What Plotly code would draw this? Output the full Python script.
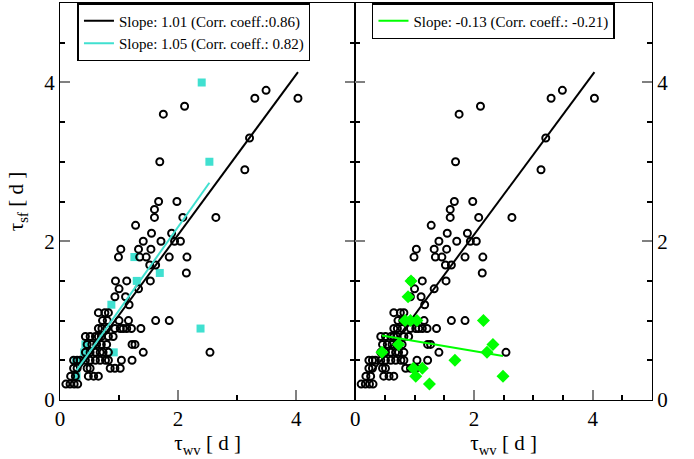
import plotly.graph_objects as go

# ---- data (tau_wv [d], tau_sf [d]) ----
circ_x = [0.10, 0.17, 0.24, 0.30,
          0.18, 0.26, 0.48, 0.57, 0.65,
          0.23, 0.29, 0.46, 0.51, 0.85, 0.93, 1.02,
          0.23, 0.29, 0.34, 0.43, 0.51, 0.60, 0.68, 0.77, 0.82, 1.04, 1.22,
          0.43, 0.51, 0.60, 0.68, 0.73, 0.82, 1.41, 2.54,
          0.46, 0.54, 0.62, 0.70, 0.79, 1.22, 1.27,
          0.43, 0.51, 0.60, 0.65, 0.70, 0.82, 0.90,
          0.65, 0.71, 0.79, 0.93, 1.02, 1.07, 1.13, 1.21, 1.37,
          0.72, 0.80, 1.00, 1.16, 1.62, 1.85,
          0.65, 0.76, 0.82,
          1.17,
          0.93, 1.11,
          1.00, 1.33,
          0.94, 1.13, 1.53,
          2.14,
          1.52, 1.62,
          0.99, 1.35, 1.46, 1.85, 2.15,
          1.03, 1.33, 1.54,
          1.41, 1.71, 1.94, 2.04,
          1.55, 1.89,
          1.28,
          1.60, 2.08, 2.64,
          1.60,
          1.67, 1.98,
          3.13, 1.69, 3.21, 1.75, 2.11, 3.30, 4.03, 3.49]
circ_y = [0.2, 0.2, 0.2, 0.2,
          0.3, 0.3, 0.3, 0.3, 0.3,
          0.4, 0.4, 0.4, 0.4, 0.4, 0.4, 0.4,
          0.5, 0.5, 0.5, 0.5, 0.5, 0.5, 0.5, 0.5, 0.5, 0.5, 0.5,
          0.6, 0.6, 0.6, 0.6, 0.6, 0.6, 0.6, 0.6,
          0.7, 0.7, 0.7, 0.7, 0.7, 0.7, 0.7,
          0.8, 0.8, 0.8, 0.8, 0.8, 0.8, 0.8,
          0.9, 0.9, 0.9, 0.9, 0.9, 0.9, 0.9, 0.9, 0.9,
          1.0, 1.0, 1.0, 1.0, 1.0, 1.0,
          1.1, 1.1, 1.1,
          1.2,
          1.3, 1.3,
          1.4, 1.4,
          1.5, 1.5, 1.5,
          1.6,
          1.7, 1.7,
          1.8, 1.8, 1.8, 1.8, 1.8,
          1.9, 1.9, 1.9,
          2.0, 2.0, 2.0, 2.0,
          2.1, 2.1,
          2.2,
          2.3, 2.3, 2.3,
          2.4,
          2.5, 2.5,
          2.9, 3.0, 3.3, 3.6, 3.7, 3.8, 3.8, 3.9]

sq_x = [0.28, 0.27, 0.41, 0.43, 0.91, 0.87, 1.30, 1.26, 1.69, 2.38, 2.53, 2.40]
sq_y = [0.3, 0.5, 0.6, 0.7, 0.6, 1.2, 1.5, 1.8, 1.6, 0.9, 3.0, 4.0]

dia_x = [0.45, 0.73, 0.84, 0.93, 1.04, 0.89, 0.94, 0.98, 1.13, 1.02, 1.25, 1.68, 2.16, 2.22, 2.32, 2.49]
dia_y = [0.6, 0.7, 1.0, 1.0, 1.0, 1.3, 1.5, 0.4, 0.4, 0.3, 0.2, 0.5, 1.0, 0.6, 0.7, 0.3]

# linear fits: slope, intercept, x-range
fit_names = ["Slope: 1.01 (Corr. coeff.:0.86)",
             "Slope: 1.05 (Corr. coeff.: 0.82)",
             "Slope: -0.13 (Corr. coeff.: -0.21)"]
fit_slope = [1.01, 1.05, -0.127]
fit_icpt = [0.06, 0.08, 0.87]
fit_xmin = [0.28, 0.28, 0.45]
fit_xmax = [4.03, 2.53, 2.49]

x_ticks = [0, 2, 4]
y_ticks = [0, 2, 4]

BLACK = "black"
CYAN = "#40E0D0"
GREEN = "#00FF00"
FONT = "Liberation Serif"


def fit_line(i):
    xs = [fit_xmin[i], fit_xmax[i]]
    ys = [fit_slope[i] * v + fit_icpt[i] for v in xs]
    return xs, ys


fig = go.Figure()

circ_marker = dict(symbol="circle-open", size=7, color=BLACK, line=dict(width=2, color=BLACK))

# ---- left panel ----
fig.add_trace(go.Scatter(x=sq_x, y=sq_y, mode="markers", xaxis="x", yaxis="y",
                         marker=dict(symbol="square", size=8, color=CYAN, line=dict(width=0)),
                         showlegend=False))
fig.add_trace(go.Scatter(x=circ_x, y=circ_y, mode="markers", xaxis="x", yaxis="y",
                         marker=circ_marker, showlegend=False))
lx, ly = fit_line(0)
fig.add_trace(go.Scatter(x=lx, y=ly, mode="lines", xaxis="x", yaxis="y",
                         line=dict(color=BLACK, width=2), name=fit_names[0], legend="legend"))
lx, ly = fit_line(1)
fig.add_trace(go.Scatter(x=lx, y=ly, mode="lines", xaxis="x", yaxis="y",
                         line=dict(color=CYAN, width=2), name=fit_names[1], legend="legend"))

# ---- right panel ----
fig.add_trace(go.Scatter(x=circ_x, y=circ_y, mode="markers", xaxis="x2", yaxis="y2",
                         marker=circ_marker, showlegend=False))
lx, ly = fit_line(0)
fig.add_trace(go.Scatter(x=lx, y=ly, mode="lines", xaxis="x2", yaxis="y2",
                         line=dict(color=BLACK, width=2), showlegend=False))
fig.add_trace(go.Scatter(x=dia_x, y=dia_y, mode="markers", xaxis="x2", yaxis="y2",
                         marker=dict(symbol="diamond", size=10, color=GREEN, line=dict(width=0)),
                         showlegend=False))
lx, ly = fit_line(2)
fig.add_trace(go.Scatter(x=lx, y=ly, mode="lines", xaxis="x2", yaxis="y2",
                         line=dict(color=GREEN, width=2), name=fit_names[2], legend="legend2"))

split = 0.4987

common_axis = dict(range=[0, 5], showgrid=False, zeroline=False, showline=True,
                   linecolor=BLACK, linewidth=1, ticks="inside",
                   ticklen=10, tickwidth=2, tickcolor="#808080",
                   tickfont=dict(family=FONT, size=21, color=BLACK))

title_font = dict(family=FONT, size=21, color=BLACK)

xa = dict(common_axis, tickvals=x_ticks, mirror=True,
          minor=dict(ticks="inside", ticklen=5, tickwidth=1.5, tickcolor=BLACK, dtick=1, tick0=0),
          title=dict(text="τ<sub>wv</sub> [ d ]", font=title_font, standoff=2))
xa2 = dict(common_axis, tickvals=x_ticks, mirror=True,
           minor=dict(ticks="inside", ticklen=5, tickwidth=1.5, tickcolor=BLACK, dtick=0.5, tick0=0),
           title=dict(text="τ<sub>wv</sub> [ d ]", font=title_font, standoff=2))
ya = dict(common_axis, tickvals=y_ticks, mirror="ticks",
          minor=dict(ticks="inside", ticklen=5, tickwidth=1.5, tickcolor=BLACK, dtick=0.5, tick0=0),
          title=dict(text="τ<sub>sf</sub> [ d ]", font=title_font, standoff=14))
ya2 = dict(common_axis, tickvals=y_ticks, mirror="ticks",
           minor=dict(ticks="inside", ticklen=5, tickwidth=1.5, tickcolor=BLACK, dtick=0.5, tick0=0))

legend_style = dict(bgcolor="white", bordercolor=BLACK, borderwidth=1.5,
                    font=dict(family=FONT, size=15, color=BLACK),
                    xanchor="left", yanchor="top", tracegroupgap=0)

fig.update_layout(
    width=694, height=459,
    margin=dict(l=60, r=42, t=3, b=59, autoexpand=False),
    paper_bgcolor="white", plot_bgcolor="white",
    font=dict(family=FONT, size=20, color=BLACK),
    xaxis=dict(xa, domain=[0, split], anchor="y"),
    yaxis=dict(ya, domain=[0, 1], anchor="x"),
    xaxis2=dict(xa2, domain=[split, 1], anchor="y2"),
    yaxis2=dict(ya2, domain=[0, 1], anchor="x2", side="right"),
    legend=dict(legend_style, x=0.0295, y=1.0),
    legend2=dict(legend_style, x=0.527, y=1.0),
)

fig.write_html("out.html", config={"displayModeBar": False},
               post_script="document.body.style.margin='0px';")
